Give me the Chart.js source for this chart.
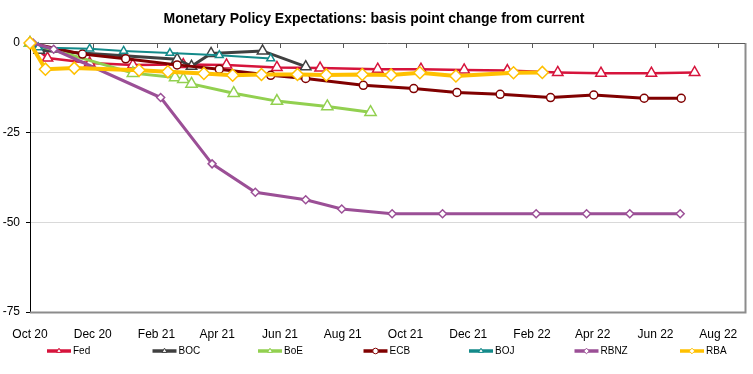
<!DOCTYPE html>
<html><head><meta charset="utf-8">
<script src="https://cdn.jsdelivr.net/npm/chart.js@4.4.1/dist/chart.umd.min.js"></script>
<style>html,body{margin:0;padding:0;background:#fff;}canvas{display:block;}</style>
</head><body>
<canvas id="c" width="753" height="374"></canvas>
<script>
// ---------- data ----------
const baseDate = '2020-10-19';
const axisEndDate = '2022-09-14';
const tickDates = ['2020-10-19','2020-12-19','2021-02-19','2021-04-19','2021-06-19','2021-08-19','2021-10-19','2021-12-19','2022-02-19','2022-04-19','2022-06-19','2022-08-19'];
const tickLabels = ['Oct 20','Dec 20','Feb 21','Apr 21','Jun 21','Aug 21','Oct 21','Dec 21','Feb 22','Apr 22','Jun 22','Aug 22'];
const yMin = -75, yMax = 0, yStep = 25;

const fedDates = ['2020-10-19','2020-11-05','2020-12-16','2021-01-27','2021-03-17','2021-04-28','2021-06-16','2021-07-28','2021-09-22','2021-11-03','2021-12-15','2022-01-26','2022-03-16','2022-04-27','2022-06-15','2022-07-27'];
const fedValues = [0,-4.2,-5.6,-6.1,-6.0,-6.1,-6.8,-7.0,-7.3,-7.3,-7.5,-7.7,-8.2,-8.4,-8.4,-8.2];

const bocDates = ['2020-10-19','2020-10-28','2021-03-11','2021-03-25','2021-04-13','2021-06-02','2021-07-14'];
const bocValues = [0,-2.0,-4.5,-6.5,-2.9,-2.2,-6.6];

const boeDates = ['2020-10-19','2021-01-27','2021-03-09','2021-03-17','2021-03-25','2021-05-05','2021-06-16','2021-08-04','2021-09-15'];
const boeValues = [0,-8.4,-9.6,-10.1,-11.4,-14.0,-16.2,-17.7,-19.3];

const ecbDates = ['2020-10-19','2020-12-09','2021-01-20','2021-03-11','2021-04-21','2021-06-10','2021-07-14','2021-09-08','2021-10-27','2021-12-08','2022-01-19','2022-03-09','2022-04-20','2022-06-08','2022-07-14'];
const ecbValues = [0,-3.1,-4.4,-6.1,-7.3,-9.0,-9.9,-11.8,-12.7,-13.8,-14.3,-15.2,-14.5,-15.4,-15.4];

const bojDates = ['2020-10-19','2020-10-27','2020-12-16','2021-01-18','2021-03-04','2021-04-21','2021-06-10'];
const bojValues = [0,-1.25,-1.6,-2.2,-2.8,-3.4,-4.3];

const rbnzDates = ['2020-10-22','2020-11-11','2021-02-23','2021-04-14','2021-05-26','2021-07-14','2021-08-18','2021-10-06','2021-11-24','2022-02-23','2022-04-13','2022-05-25','2022-07-13'];
const rbnzValues = [0,-1.75,-15.2,-33.7,-41.6,-43.7,-46.3,-47.6,-47.6,-47.6,-47.6,-47.6,-47.6];

const rbaDates = ['2020-10-19','2020-11-03','2020-12-01','2021-02-02','2021-03-02','2021-04-06','2021-05-04','2021-06-01','2021-07-06','2021-08-03','2021-09-07','2021-10-05','2021-11-02','2021-12-07','2022-02-01','2022-03-01'];
const rbaValues = [0,-7.3,-7.0,-7.6,-8.0,-8.5,-9.0,-8.8,-8.8,-8.9,-8.8,-8.9,-8.3,-9.2,-8.3,-8.2];

const seriesNames = ['Fed','BOC','BoE','ECB','BOJ','RBNZ','RBA'];

// ---------- helpers ----------
const dayOf = s => (Date.parse(s + 'T00:00:00Z') - Date.parse(baseDate + 'T00:00:00Z')) / 86400000;
const toPoints = (dates, vals) => dates.map((d, i) => ({x: dayOf(d), y: vals[i]}));

const seriesData = [
  toPoints(fedDates, fedValues),
  toPoints(bocDates, bocValues),
  toPoints(boeDates, boeValues),
  toPoints(ecbDates, ecbValues),
  toPoints(bojDates, bojValues),
  toPoints(rbnzDates, rbnzValues),
  toPoints(rbaDates, rbaValues)
];

const styles = [
  {color:'#d6143c', width:2.5, point:'triangle', r:6},
  {color:'#404040', width:3,   point:'triangle', r:6},
  {color:'#92d050', width:3,   point:'triangle', r:6.5},
  {color:'#800000', width:3,   point:'circle',   r:4},
  {color:'#148a8a', width:2,   point:'triangle', r:4.5},
  {color:'#9b4f96', width:3,   point:'rectRot',  r:4},
  {color:'#ffc000', width:4,   point:'rectRot',  r:6}
];

const datasets = seriesNames.map((name, i) => ({
  label: name,
  data: seriesData[i],
  borderColor: styles[i].color,
  backgroundColor: '#ffffff',
  borderWidth: styles[i].width,
  pointStyle: styles[i].point,
  pointRadius: styles[i].r,
  pointBackgroundColor: '#ffffff',
  pointBorderColor: styles[i].color,
  pointBorderWidth: 1.5,
  tension: 0,
  clip: false,
  order: seriesNames.length - i
}));

Chart.defaults.font.family = "'Liberation Sans', Arial, sans-serif";
Chart.defaults.color = '#000';

const framePlugin = {
  id: 'frame',
  beforeDatasetsDraw(chart) {
    const {ctx, chartArea: {left, right, top, bottom}, scales: {x}} = chart;
    ctx.save();
    ctx.strokeStyle = '#8c8c8c';
    ctx.lineWidth = 2;
    ctx.beginPath();
    ctx.moveTo(left, bottom + 0.5);
    ctx.lineTo(right + 0.5, bottom + 0.5);
    ctx.lineTo(right + 0.5, top);
    ctx.stroke();
    ctx.strokeStyle = '#595959';
    ctx.lineWidth = 1;
    ctx.beginPath();
    ctx.moveTo(left, top + 0.5);
    ctx.lineTo(right, top + 0.5);
    x.ticks.forEach((t, i) => {
      if (i === 0) return;
      const px = Math.round(x.getPixelForValue(t.value)) + 0.5;
      ctx.moveTo(px, top);
      ctx.lineTo(px, top + 5);
    });
    ctx.stroke();
    ctx.restore();
  }
};

const legendPlugin = {
  id: 'customLegend',
  afterDraw(chart) {
    const ctx = chart.ctx;
    const y = 351;
    ctx.save();
    chart.data.datasets.forEach((ds, i) => {
      const x0 = 47 + i * 105.5;
      ctx.strokeStyle = ds.borderColor;
      ctx.lineWidth = 3.5;
      ctx.beginPath();
      ctx.moveTo(x0, y);
      ctx.lineTo(x0 + 24, y);
      ctx.stroke();
      ctx.fillStyle = '#fff';
      ctx.lineWidth = 1;
      if (Chart.helpers && Chart.helpers.drawPoint) {
        Chart.helpers.drawPoint(ctx, {pointStyle: ds.pointStyle, rotation: 0, radius: 2.8, borderWidth: 1}, x0 + 12, y);
      }
      ctx.fillStyle = '#000';
      ctx.font = "10px 'Liberation Sans', Arial, sans-serif";
      ctx.textAlign = 'left';
      ctx.textBaseline = 'middle';
      ctx.fillText(ds.label, x0 + 26, y);
    });
    ctx.restore();
  }
};

new Chart(document.getElementById('c'), {
  type: 'line',
  data: {datasets},
  plugins: [framePlugin, legendPlugin],
  options: {
    responsive: false,
    animation: false,
    layout: {padding: {left: 0, right: 5, top: 0, bottom: 0}},
    plugins: {
      legend: {display: false},
      tooltip: {enabled: false},
      title: {
        display: true,
        text: 'Monetary Policy Expectations: basis point change from current',
        font: {size: 14, weight: 'bold'},
        color: '#000',
        padding: {top: 11, bottom: 15.2}
      }
    },
    scales: {
      x: {
        type: 'linear',
        min: 0,
        max: dayOf(axisEndDate),
        afterBuildTicks: s => { s.ticks = tickDates.map(d => ({value: dayOf(d)})); },
        afterFit: s => { s.height = 62; },
        grid: {display: false},
        border: {display: false},
        ticks: {
          autoSkip: false, maxRotation: 0, padding: 7,
          font: {size: 12}, color: '#000',
          callback: (v, i) => tickLabels[i]
        }
      },
      y: {
        min: yMin, max: yMax,
        afterFit: s => { s.width = 30; },
        grid: {
          color: c => (c.tick && (c.tick.value === yMin || c.tick.value === yMax)) ? 'rgba(0,0,0,0)' : '#d9d9d9',
          tickColor: '#000',
          tickLength: 4,
          drawTicks: true
        },
        border: {display: true, color: '#000', width: 1},
        ticks: {stepSize: yStep, padding: 6, font: {size: 12}, color: '#000'}
      }
    }
  }
});
</script>
</body></html>
